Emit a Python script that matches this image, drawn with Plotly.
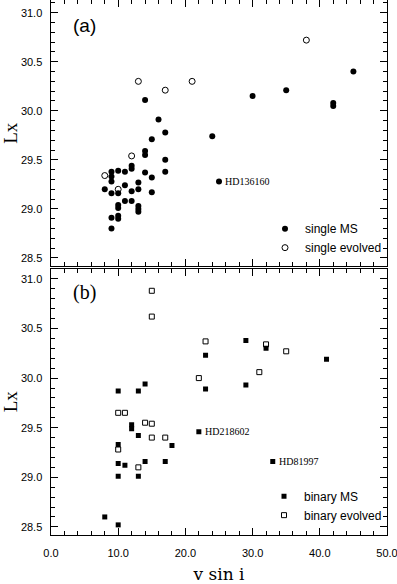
import plotly.graph_objects as go
from plotly.subplots import make_subplots

# panel (a): single stars
single_ms_vsini = [8, 9, 9, 9, 9, 9, 9, 10, 10, 10, 10, 10, 10,
                   11, 11, 11, 12, 12, 12, 12, 13, 13, 13, 13, 13,
                   14, 14, 14, 14, 15, 15, 15, 16, 17, 17, 17,
                   24, 25, 30, 35, 42, 42, 45]
single_ms_lx = [29.20, 29.38, 29.33, 29.28, 29.16, 28.91, 28.80, 29.39, 29.16, 29.04, 29.01, 28.93, 28.90,
                29.38, 29.24, 29.08, 29.44, 29.41, 29.18, 29.08, 29.27, 29.20, 29.03, 29.00, 28.97,
                30.11, 29.59, 29.55, 29.37, 29.71, 29.32, 29.17, 29.91, 29.78, 29.50, 29.38,
                29.74, 29.28, 30.15, 30.21, 30.08, 30.05, 30.40]
single_ev_vsini = [8, 10, 12, 13, 17, 21, 38]
single_ev_lx = [29.34, 29.20, 29.54, 30.30, 30.21, 30.30, 30.72]

# panel (b): binaries
binary_ms_vsini = [8, 10, 10, 10, 10, 10, 11, 12, 12, 13, 13, 13, 14, 14,
                   17, 18, 22, 23, 23, 29, 29, 32, 33, 41]
binary_ms_lx = [28.60, 28.52, 29.87, 29.33, 29.14, 29.01, 29.12, 29.53, 29.49, 29.87, 29.42, 29.01, 29.94, 29.16,
                29.16, 29.32, 29.46, 30.23, 29.89, 30.38, 29.93, 30.30, 29.16, 30.19]
binary_ev_vsini = [10, 10, 11, 13, 14, 15, 15, 15, 15, 17, 22, 23, 31, 32, 35]
binary_ev_lx = [29.65, 29.28, 29.65, 29.10, 29.55, 30.88, 30.62, 29.54, 29.40, 29.40,
                30.00, 30.37, 30.06, 30.34, 30.27]

# labelled stars
star_names = ['HD136160', 'HD218602', 'HD81997']
star_vsini = [25, 22, 33]
star_lx = [29.28, 29.46, 29.16]
star_row = [1, 2, 2]

fig = make_subplots(rows=2, cols=1, vertical_spacing=0.004)

fig.add_trace(go.Scatter(x=single_ms_vsini, y=single_ms_lx, mode='markers', name='single MS',
                         marker=dict(symbol='circle', size=6, color='black'),
                         legend='legend'), row=1, col=1)
fig.add_trace(go.Scatter(x=single_ev_vsini, y=single_ev_lx, mode='markers', name='single evolved',
                         marker=dict(symbol='circle-open', size=6, color='black', line=dict(width=1)),
                         legend='legend'), row=1, col=1)
fig.add_trace(go.Scatter(x=binary_ms_vsini, y=binary_ms_lx, mode='markers', name='binary MS',
                         marker=dict(symbol='square', size=5, color='black'),
                         legend='legend2'), row=2, col=1)
fig.add_trace(go.Scatter(x=binary_ev_vsini, y=binary_ev_lx, mode='markers', name='binary evolved',
                         marker=dict(symbol='square-open', size=5, color='black', line=dict(width=1)),
                         legend='legend2'), row=2, col=1)

# star name labels
for name, xv, yv, r in zip(star_names, star_vsini, star_lx, star_row):
    fig.add_annotation(x=xv, y=yv, text=name, showarrow=False, xanchor='left', xshift=4,
                       font=dict(family='Liberation Serif', size=10, color='black'),
                       row=r, col=1)

# panel letters
fig.add_annotation(x=3.0, y=30.87, text='(a)', showarrow=False, xanchor='left',
                   font=dict(family='Liberation Sans', size=19, color='black'), row=1, col=1)
fig.add_annotation(x=3.0, y=30.86, text='(b)', showarrow=False, xanchor='left',
                   font=dict(family='Liberation Serif', size=20, color='black'), row=2, col=1)

tick_font = dict(family='Liberation Sans Narrow, Liberation Sans', size=11, color='black')

fig.update_xaxes(range=[0, 50], tickmode='linear', dtick=10, tick0=0, tickformat='.1f',
                 tickfont=tick_font, ticklabeloverflow='allow',
                 showline=True, linecolor='black', mirror='allticks',
                 ticks='inside', ticklen=7, tickcolor='black', tickwidth=1,
                 minor=dict(dtick=2, ticks='inside', ticklen=4, tickcolor='black', showgrid=False),
                 showgrid=True, gridcolor='rgba(0,0,0,0)', zeroline=False, automargin=False)
fig.update_xaxes(showticklabels=False, row=1, col=1)
fig.update_xaxes(ticklabelstandoff=8,
                 title=dict(text='v sin i', font=dict(family='DejaVu Serif', size=17, color='black'),
                            standoff=12), row=2, col=1)
fig.update_yaxes(tickmode='linear', dtick=0.5, tick0=28.5, tickformat='.1f', tickfont=tick_font,
                 ticksuffix='\u2002',
                 showline=True, linecolor='black', mirror='allticks',
                 ticks='inside', ticklen=7, tickcolor='black', tickwidth=1,
                 minor=dict(dtick=0.1, ticks='inside', ticklen=4, tickcolor='black', showgrid=False),
                 showgrid=True, gridcolor='rgba(0,0,0,0)', zeroline=False, automargin=False,
                 title=dict(text='Lx', font=dict(family='Liberation Serif', size=19, color='black'),
                            standoff=6))
fig.update_yaxes(range=[28.414, 31.129], row=1, col=1)
fig.update_yaxes(range=[28.418, 31.104], row=2, col=1)

fig.update_layout(
    width=397, height=584,
    margin=dict(l=51, r=10, t=0, b=49),
    plot_bgcolor='white', paper_bgcolor='white',
    legend=dict(x=1, y=0.51, xanchor='right', yanchor='bottom', bgcolor='rgba(0,0,0,0)',
                font=dict(family='Liberation Sans Narrow, Liberation Sans', size=12, color='black'),
                itemwidth=30, tracegroupgap=0),
    legend2=dict(x=1, y=0.01, xanchor='right', yanchor='bottom', bgcolor='rgba(0,0,0,0)',
                 font=dict(family='Liberation Sans Narrow, Liberation Sans', size=12, color='black'),
                 itemwidth=30, tracegroupgap=0),
)

fig.write_html("out.html", config={'displayModeBar': False},
               post_script="document.body.style.margin='0';")
